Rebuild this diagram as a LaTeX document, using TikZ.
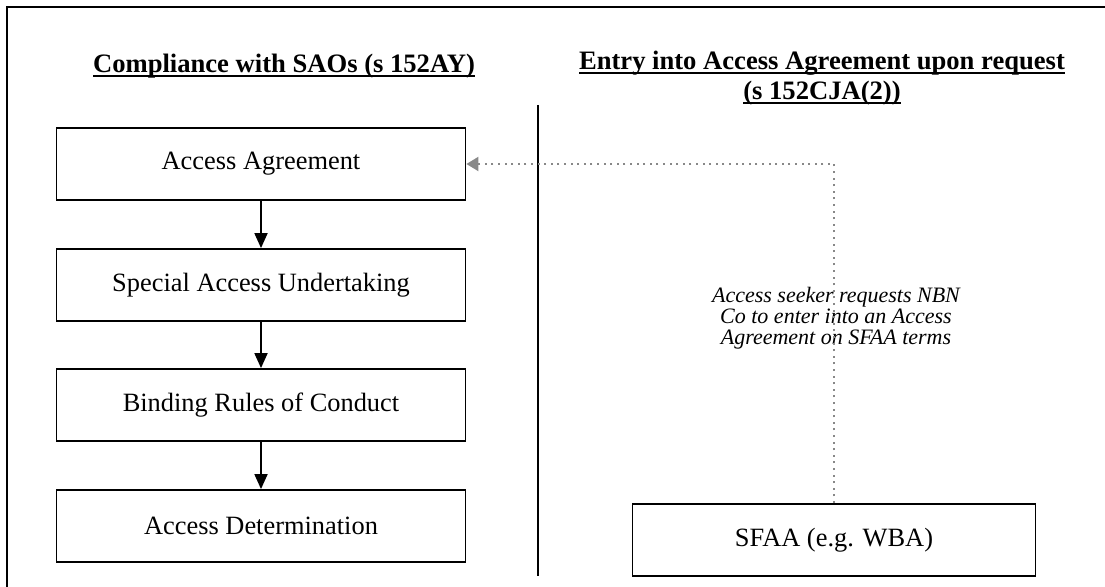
\documentclass[tikz,border=0pt]{standalone}
\usepackage{fontspec}
\setmainfont{Liberation Serif}
\usetikzlibrary{arrows.meta}

\definecolor{linkgray}{RGB}{136,136,136}

% underlined heading text
\newcommand{\headline}[1]{\leavevmode\setbox0=\hbox{#1}\rlap{\rule[-2.2pt]{\wd0}{1pt}}\box0}

\begin{document}
\begin{tikzpicture}[
    x=0.5pt, y=-0.5pt,
    frame/.style={draw=black, line width=0.9pt},
    box/.style={draw=black, line width=0.9pt, minimum width=204.5pt, minimum height=36pt, inner sep=0pt, font=\fontsize{13.2}{15}\selectfont},
    heading/.style={anchor=base, font=\fontsize{13.3}{15}\selectfont\bfseries},
    note/.style={align=center, font=\fontsize{11}{10.4}\selectfont\itshape},
    arrow/.style={-{Triangle[length=7.5pt, width=6.5pt]}, line width=0.9pt, black},
    dotarrow/.style={-{Triangle[length=6pt, width=7pt]}, line width=1pt, linkgray, dash pattern=on 1pt off 2.3pt}
]
\useasboundingbox (0,0) rectangle (1105,587);

% Outer frame (cut off at the right and bottom)
\draw[frame] (7,595) -- (7,7) -- (1115,7);

% Column headings
\node[heading] (lefthead) at (284,73) {\headline{Compliance with SAOs (s 152AY)}};
\node[heading] (righthead) at (822,70) {\headline{Entry into Access Agreement upon request}};
\node[heading] (rightsec) at (822,100) {\headline{(s 152CJA(2))}};

% Divider between the two columns
\coordinate (divtop) at (538,105);
\coordinate (divbot) at (538,576);
\draw[frame] (divtop) -- (divbot);

% Left column boxes
\node[box] (aa) at (261,164) {Access Agreement};
\node[box] (sau) at (261,285) {Special Access Undertaking};
\node[box] (brc) at (261,405) {Binding Rules of Conduct};
\node[box] (ad) at (261,526) {Access Determination};

% Arrows down the left column
\foreach \a/\b in {aa/sau, sau/brc, brc/ad} {
    \draw[arrow] (\a) -- (\b);
}

% Right column
\node[box, minimum width=201.5pt] (sfaa) at (834,540) {SFAA (e.g. WBA)};
\node[note] (request) at (836,318) {Access seeker requests NBN\\Co to enter into an Access\\Agreement on SFAA terms};

% Dotted link back to the Access Agreement
\draw[dotarrow] (sfaa.north) |- (aa.east);

\end{tikzpicture}
\end{document}
